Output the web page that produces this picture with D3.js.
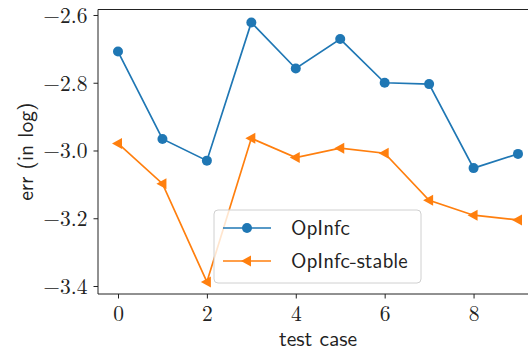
<!DOCTYPE html>
<html>
<head>
<meta charset="utf-8">
<script src="https://cdn.jsdelivr.net/npm/d3@7"></script>
<style>
  body { margin: 0; background: #fff; overflow: hidden; }
  svg { display: block; }
</style>
</head>
<body>
<div class="container"></div>
<script>
const testCases = [0, 1, 2, 3, 4, 5, 6, 7, 8, 9]
const opinfc = [-2.708, -2.966, -3.030, -2.622, -2.758, -2.671, -2.800, -2.804, -3.052, -3.010]
const opinfcStable = [-2.979, -3.098, -3.388, -2.964, -3.021, -2.993, -3.008, -3.147, -3.191, -3.205]
const xTicks = [0, 2, 4, 6, 8]
const yTicks = [-2.6, -2.8, -3.0, -3.2, -3.4]
const seriesNames = ["OpInfc", "OpInfc-stable"]

const w = 528
const h = 352
const margin = { left: 98, top: 9.5, bottom: 294, right: 538 }
const blue = "#1f77b4"
const orange = "#ff7f0e"
const serif = "Latin Modern Roman, Liberation Serif, serif"
const sans = "Latin Modern Sans, DejaVu Sans, sans-serif"

const svg = d3.select(".container")
  .append("svg")
  .attr("width", w)
  .attr("height", h)

const x = d3.scaleLinear().domain([-0.45, 9.45]).range([margin.left, margin.right])
const y = d3.scaleLinear().domain([-3.4236, -2.5838]).range([margin.bottom, margin.top])

const fmt = d => (d < 0 ? "\u2212" : "") + Math.abs(d).toFixed(1)

// axes
const xAxis = svg.append("g")
  .attr("transform", `translate(0,${margin.bottom})`)
  .call(d3.axisBottom(x).tickValues(xTicks).tickSize(4.5).tickPadding(7).tickFormat(d3.format("d")))
const yAxis = svg.append("g")
  .attr("transform", `translate(${margin.left},0)`)
  .call(d3.axisLeft(y).tickValues(yTicks).tickSize(4.5).tickPadding(6).tickFormat(fmt))

xAxis.attr("font-family", serif).attr("font-size", 21.5)
yAxis.attr("font-family", serif).attr("font-size", 21.5)
xAxis.select(".domain").remove()
yAxis.select(".domain").remove()
xAxis.selectAll("line").attr("stroke", "#222")
yAxis.selectAll("line").attr("stroke", "#222")
xAxis.selectAll("text").attr("fill", "#222").attr("font-family", serif).attr("font-size", 21.5)
yAxis.selectAll("text").attr("fill", "#222").attr("font-family", serif).attr("font-size", 21.5).attr("dy", "0.34em")

// spines
svg.append("path")
  .attr("d", `M${w},${margin.top}H${margin.left}V${margin.bottom}H${w}`)
  .attr("fill", "none").attr("stroke", "#222").attr("stroke-width", 1)

// lines
const line = d3.line().x((d, i) => x(testCases[i])).y(d => y(d))

svg.append("path").datum(opinfc)
  .attr("d", line).attr("fill", "none").attr("stroke", blue).attr("stroke-width", 1.7)
svg.append("path").datum(opinfcStable)
  .attr("d", line).attr("fill", "none").attr("stroke", orange).attr("stroke-width", 1.7)

svg.selectAll(".dot")
  .data(opinfc)
  .enter()
  .append("circle")
  .attr("class", "dot")
  .attr("cx", (d, i) => x(testCases[i]))
  .attr("cy", d => y(d))
  .attr("r", 5)
  .attr("fill", blue)

const tri = "M-6,0L4,-5.5L4,5.5Z"
svg.selectAll(".tri")
  .data(opinfcStable)
  .enter()
  .append("path")
  .attr("class", "tri")
  .attr("transform", (d, i) => `translate(${x(testCases[i])},${y(d)})`)
  .attr("d", tri)
  .attr("fill", orange)

// legend
const legend = svg.append("g").attr("transform", "translate(214,210)")
legend.append("rect")
  .attr("width", 207).attr("height", 73).attr("rx", 4)
  .attr("fill", "rgba(255,255,255,0.8)").attr("stroke", "#d0d0d0").attr("stroke-width", 1)

const legendItem = legend.selectAll(".legend-item")
  .data(seriesNames)
  .enter()
  .append("g")
  .attr("class", "legend-item")
  .attr("transform", (d, i) => `translate(0,${18 + i * 33})`)

legendItem.append("line")
  .attr("x1", 9).attr("x2", 57).attr("y1", 0).attr("y2", 0)
  .attr("stroke", (d, i) => i ? orange : blue).attr("stroke-width", 1.7)
legendItem.filter((d, i) => i === 0).append("circle")
  .attr("cx", 33).attr("r", 5).attr("fill", blue)
legendItem.filter((d, i) => i === 1).append("path")
  .attr("transform", "translate(33,0)").attr("d", tri).attr("fill", orange)
legendItem.append("text")
  .attr("x", 77).attr("dy", "0.35em")
  .attr("font-family", sans).attr("font-size", 21).attr("fill", "#222")
  .text(d => d)

// axis labels
svg.append("text")
  .attr("x", (margin.left + margin.right) / 2).attr("y", 346)
  .attr("text-anchor", "middle")
  .attr("font-family", sans).attr("font-size", 21.5).attr("fill", "#222")
  .text("test case")
svg.append("text")
  .attr("transform", `translate(33,${(margin.top + margin.bottom) / 2}) rotate(-90)`)
  .attr("text-anchor", "middle")
  .attr("font-family", sans).attr("font-size", 21.5).attr("fill", "#222")
  .text("err (in log)")
</script>
</body>
</html>
